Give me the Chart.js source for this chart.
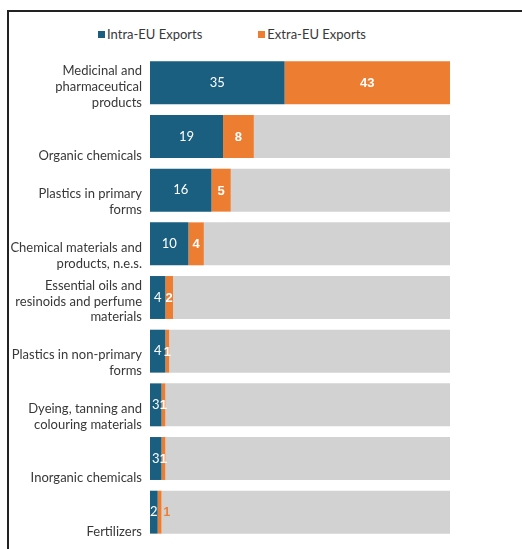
<!DOCTYPE html>
<html lang="en">
<head>
  <meta charset="UTF-8" />
  <meta name="viewport" content="width=device-width, initial-scale=1.0" />
  <title>Chemical exports by product</title>
  <script src="https://cdn.jsdelivr.net/npm/chart.js"></script>

  <style>
    body {
      margin: 0;
      background: #fff;
      font-family: 'Lato', sans-serif;
      width: 522px;
      height: 549px;
      overflow: hidden;
      position: relative;
    }

    .frame {
      position: absolute;
      left: 7px;
      top: 10px;
      width: 700px;
      height: 700px;
      border-left: 2px solid #222;
      border-top: 2px solid #222;
    }

    .legend {
      position: absolute;
      left: 9px;
      top: 26px;
      width: 446px;
      display: flex;
      justify-content: center;
      gap: 56px;
      font-size: 13px;
      color: #383838;
    }

    .legend-item {
      display: flex;
      align-items: center;
      line-height: 16px;
    }

    .legend-color {
      width: 7px;
      height: 7px;
      margin-right: 2px;
      display: inline-block;
    }

    .chart-wrapper {
      position: absolute;
      left: 9px;
      top: 12px;
      width: 446px;
      height: 537px;
    }
  </style>
</head>
<body>
  <div class="frame"></div>
  <div class="legend" id="legend"></div>
  <div class="chart-wrapper">
    <canvas id="exportChart"></canvas>
  </div>

  <script>
    // Product groups, one label line per entry
    const products = [
      ['Medicinal and', 'pharmaceutical', 'products'],
      ['Organic chemicals'],
      ['Plastics in primary', 'forms'],
      ['Chemical materials and', 'products, n.e.s.'],
      ['Essential oils and', 'resinoids and perfume', 'materials'],
      ['Plastics in non-primary', 'forms'],
      ['Dyeing, tanning and', 'colouring materials'],
      ['Inorganic chemicals'],
      ['Fertilizers']
    ];
    const intraEU = [35, 19, 16, 10, 4, 4, 3, 3, 2];
    const extraEU = [43, 8, 5, 4, 2, 1, 1, 1, 1];
    const seriesNames = ['Intra-EU Exports', 'Extra-EU Exports'];

    const BLUE = '#1a5e80';
    const ORANGE = '#ed7d31';
    const GREY = '#d2d2d2';

    // every bar is filled up to the largest total with a grey remainder
    const totals = intraEU.map((v, i) => v + extraEU[i]);
    const maxTotal = Math.max(...totals);
    const remainder = totals.map(t => maxTotal - t);

    // labels sit at the bottom of a three-line block
    const tickLabels = products.map(lines => {
      const padded = lines.slice();
      while (padded.length < 3) padded.unshift('');
      return padded;
    });

    // value labels drawn inside the coloured segments
    const segmentLabels = {
      id: 'segmentLabels',
      afterDatasetsDraw(chart) {
        const ctx = chart.ctx;
        ctx.save();
        ctx.textBaseline = 'middle';
        [0, 1].forEach(di => {
          const meta = chart.getDatasetMeta(di);
          const values = chart.data.datasets[di].data;
          meta.data.forEach((bar, i) => {
            const mid = (bar.x + bar.base) / 2;
            if (di === 0) {
              ctx.font = '13px Lato';
              ctx.fillStyle = '#fff';
              ctx.textAlign = 'center';
              ctx.fillText(values[i], mid, bar.y);
            } else if (totals[i] < 4) {
              // too thin to hold its label: put it just after the bar
              ctx.font = 'bold 12px "Liberation Sans"';
              ctx.fillStyle = ORANGE;
              ctx.textAlign = 'left';
              ctx.fillText(values[i], bar.x + 2, bar.y + 1);
            } else {
              ctx.font = 'bold 13px "Liberation Sans"';
              ctx.fillStyle = '#fff';
              ctx.textAlign = 'center';
              ctx.fillText(values[i], mid, bar.y + 1);
            }
          });
        });
        ctx.restore();
      }
    };

    const ctx = document.getElementById('exportChart').getContext('2d');

    new Chart(ctx, {
      type: 'bar',
      data: {
        labels: tickLabels,
        datasets: [
          { label: seriesNames[0], data: intraEU, backgroundColor: BLUE },
          { label: seriesNames[1], data: extraEU, backgroundColor: ORANGE },
          { label: 'rest', data: remainder, backgroundColor: GREY }
        ]
      },
      options: {
        indexAxis: 'y',
        responsive: true,
        maintainAspectRatio: false,
        animation: false,
        layout: { padding: { top: 44, bottom: 10, right: 5 } },
        datasets: {
          bar: { categoryPercentage: 1, barPercentage: 0.8 }
        },
        scales: {
          x: {
            stacked: true,
            display: false,
            min: 0,
            max: maxTotal
          },
          y: {
            stacked: true,
            grid: { display: false, drawTicks: false },
            border: { display: false },
            afterFit(scale) {
              scale.width = 141;
              scale.paddingTop = 0;
              scale.paddingBottom = 0;
            },
            ticks: {
              padding: 8,
              labelOffset: 4,
              color: '#383838',
              font: { family: 'Lato', size: 13, lineHeight: 1.2 }
            }
          }
        },
        plugins: {
          legend: { display: false },
          tooltip: {
            filter: item => item.datasetIndex < 2
          }
        }
      },
      plugins: [segmentLabels]
    });

    // Legend
    const legend = document.getElementById('legend');
    [BLUE, ORANGE].forEach((color, i) => {
      const item = document.createElement('div');
      item.className = 'legend-item';

      const colorBox = document.createElement('span');
      colorBox.className = 'legend-color';
      colorBox.style.backgroundColor = color;

      item.appendChild(colorBox);
      item.appendChild(document.createTextNode(seriesNames[i]));
      legend.appendChild(item);
    });
  </script>
</body>
</html>
